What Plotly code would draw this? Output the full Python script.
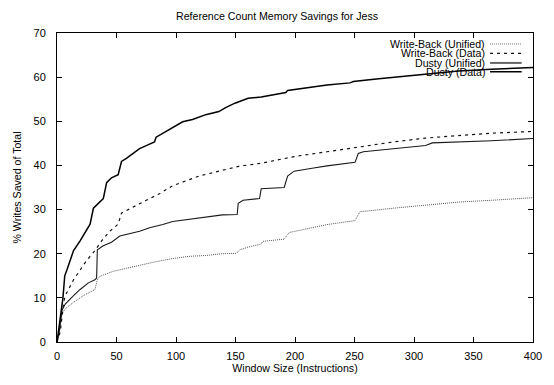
import plotly.graph_objects as go

# ---- data ----
dusty_data_x = [0, 1.4, 3, 5, 6.5, 8.3, 11, 13.9, 19.4, 23.6, 27.8, 30.6, 34.7, 38.9, 41.7, 45.8, 51.4, 54.2, 58.3,
                63.9, 69.4, 75, 81.9, 83.3, 88.9, 97.2, 105.6, 113.9, 125, 136, 141.7, 149.5, 160.6, 171.6, 192.3,
                193.8, 213.1, 226.9, 246.2, 249, 268.3, 296, 309.8, 337.4, 365.1, 400]
dusty_data_y = [0, 2.4, 6, 10, 15.0, 16.3, 18.2, 20.7, 22.9, 24.8, 26.7, 30.3, 31.4, 32.5, 36.1, 37.2, 37.9, 40.9,
                41.6, 42.7, 43.8, 44.5, 45.3, 46.4, 47.3, 48.6, 49.9, 50.4, 51.5, 52.2, 53.1, 54.1, 55.2, 55.5, 56.5,
                57.0, 57.7, 58.2, 58.7, 59.0, 59.6, 60.3, 60.7, 61.4, 61.8, 62.2]

wb_data_x = [0, 2.8, 5.6, 6.9, 13.9, 19.4, 25, 31.9, 37.5, 44.4, 51.4, 54.2, 63.9, 75, 86.1, 97.2, 108.3, 119.4,
             136, 152.8, 171.6, 199.2, 226.9, 254.5, 282.2, 309.8, 337.4, 365.1, 400]
wb_data_y = [0, 2.4, 9.0, 10.5, 14.1, 16.3, 18.5, 20.7, 22.9, 25.1, 26.7, 29.2, 30.6, 32.1, 33.6, 35.4, 36.5, 37.6,
             38.7, 39.8, 40.5, 42.0, 43.1, 44.2, 45.3, 46.2, 46.7, 47.3, 47.7]

dusty_uni_x = [0, 1.9, 4.2, 6.9, 13.9, 19.4, 26.4, 31.9, 33.3, 33.9, 38.9, 45.8, 52.8, 58.3, 69.4, 77.8, 88.9,
               97.2, 111, 125, 139, 151.4, 152.3, 156.4, 170.2, 171.6, 190.9, 193.8, 199.2, 215.7, 226.9, 250.4,
               253.2, 257.4, 282.2, 309.8, 315.3, 337.4, 365.1, 400]
dusty_uni_y = [0, 2.4, 7.2, 8.6, 10.5, 11.9, 13.4, 14.1, 14.5, 20.9, 21.8, 22.6, 24.0, 24.4, 25.1, 25.9, 26.6,
               27.3, 27.8, 28.4, 28.8, 28.9, 31.4, 32.1, 32.5, 34.7, 35.0, 37.6, 38.7, 39.4, 39.9, 40.7,
               42.7, 43.1, 43.8, 44.5, 45.1, 45.3, 45.6, 46.1]

wb_uni_x = [0, 2.2, 4.2, 6.9, 13.9, 22.2, 31.9, 33.9, 36.1, 47.2, 58.3, 69.4, 83.3, 97.2, 111, 125, 139, 150.9,
            153.7, 160.6, 171.6, 173, 190.9, 195.1, 213, 226.9, 250.4, 254.5, 282.2, 309.8, 337.4, 365.1, 400]
wb_uni_y = [0, 2.4, 6.4, 7.5, 9.0, 10.5, 11.9, 14.1, 14.9, 16.0, 16.7, 17.4, 18.2, 18.9, 19.4, 19.6, 20.0, 20.1,
            20.9, 21.5, 22.2, 22.8, 23.3, 24.8, 25.9, 26.6, 27.5, 29.5, 30.3, 31.0, 31.7, 32.1, 32.7]

series_names = ["Write-Back (Unified)", "Write-Back (Data)", "Dusty (Unified)", "Dusty (Data)"]
x_ticks = [0, 50, 100, 150, 200, 250, 300, 350, 400]
y_ticks = [0, 10, 20, 30, 40, 50, 60, 70]

FONT = "Liberation Sans, Arial, Helvetica, sans-serif"

styles = [
    dict(color="#555555", width=1, dash="1px,1px"),
    dict(color="#111111", width=1.2, dash="3px,4px"),
    dict(color="#1a1a1a", width=1.1, dash="solid"),
    dict(color="#000000", width=1.5, dash="solid"),
]
legend_styles = [
    dict(color="#777777", width=1, dash="1px,1px"),
    dict(color="#111111", width=1.2, dash="3px,4px"),
    dict(color="#666666", width=2, dash="solid"),
    dict(color="#000000", width=1.5, dash="solid"),
]

fig = go.Figure()
for (xs, ys), name, st in zip(
        [(wb_uni_x, wb_uni_y), (wb_data_x, wb_data_y), (dusty_uni_x, dusty_uni_y), (dusty_data_x, dusty_data_y)],
        series_names, styles):
    fig.add_trace(go.Scatter(x=xs, y=ys, mode="lines", name=name, line=st, showlegend=False))

# plot-area geometry in pixels
L, R, T, B = 56.5, 538.5, 33, 352
W, H = 554, 385

def px2paper_x(px):
    return (px - L) / (R - L)

def px2paper_y(py):
    return (B - py) / (B - T)

row_y = [44.3, 54.1, 63.9, 73.0]
annotations = []
shapes = []
for name, st, ry in zip(series_names, legend_styles, row_y):
    annotations.append(dict(x=px2paper_x(490.5), y=px2paper_y(ry), xref="paper", yref="paper",
                            text=name, showarrow=False, xanchor="right", yanchor="middle",
                            borderpad=0, font=dict(family=FONT, size=10.6, color="#000")))
    shapes.append(dict(type="line", xref="paper", yref="paper",
                       x0=px2paper_x(495), x1=px2paper_x(527), y0=px2paper_y(ry), y1=px2paper_y(ry),
                       line=st))

axis_common = dict(showline=True, linecolor="#000", linewidth=1, mirror="allticks", ticks="inside",
                   ticklen=5, tickcolor="#000", showgrid=False, zeroline=False,
                   tickfont=dict(family=FONT, size=11, color="#000"))

fig.update_layout(
    width=W, height=H,
    margin=dict(l=L, r=W - R, t=T, b=H - B),
    paper_bgcolor="white", plot_bgcolor="white",
    title=dict(text="Reference Count Memory Savings for Jess", x=0.5, xanchor="center", y=1 - 16 / H,
               yanchor="middle", font=dict(family=FONT, size=10.6, color="#000")),
    xaxis=dict(range=[0, 400], tickvals=x_ticks, ticktext=[str(v) for v in x_ticks],
               ticklabelstandoff=4,
               title=dict(text="Window Size (Instructions)", font=dict(family=FONT, size=10.6, color="#000"),
                          standoff=3),
               **axis_common),
    yaxis=dict(range=[0, 70], tickvals=y_ticks, ticktext=[str(v) for v in y_ticks],
               ticklabelstandoff=8,
               title=dict(text="% Writes Saved of Total", font=dict(family=FONT, size=10.6, color="#000"),
                          standoff=9),
               **axis_common),
    annotations=annotations,
    shapes=shapes,
)

fig.write_html("out.html")
